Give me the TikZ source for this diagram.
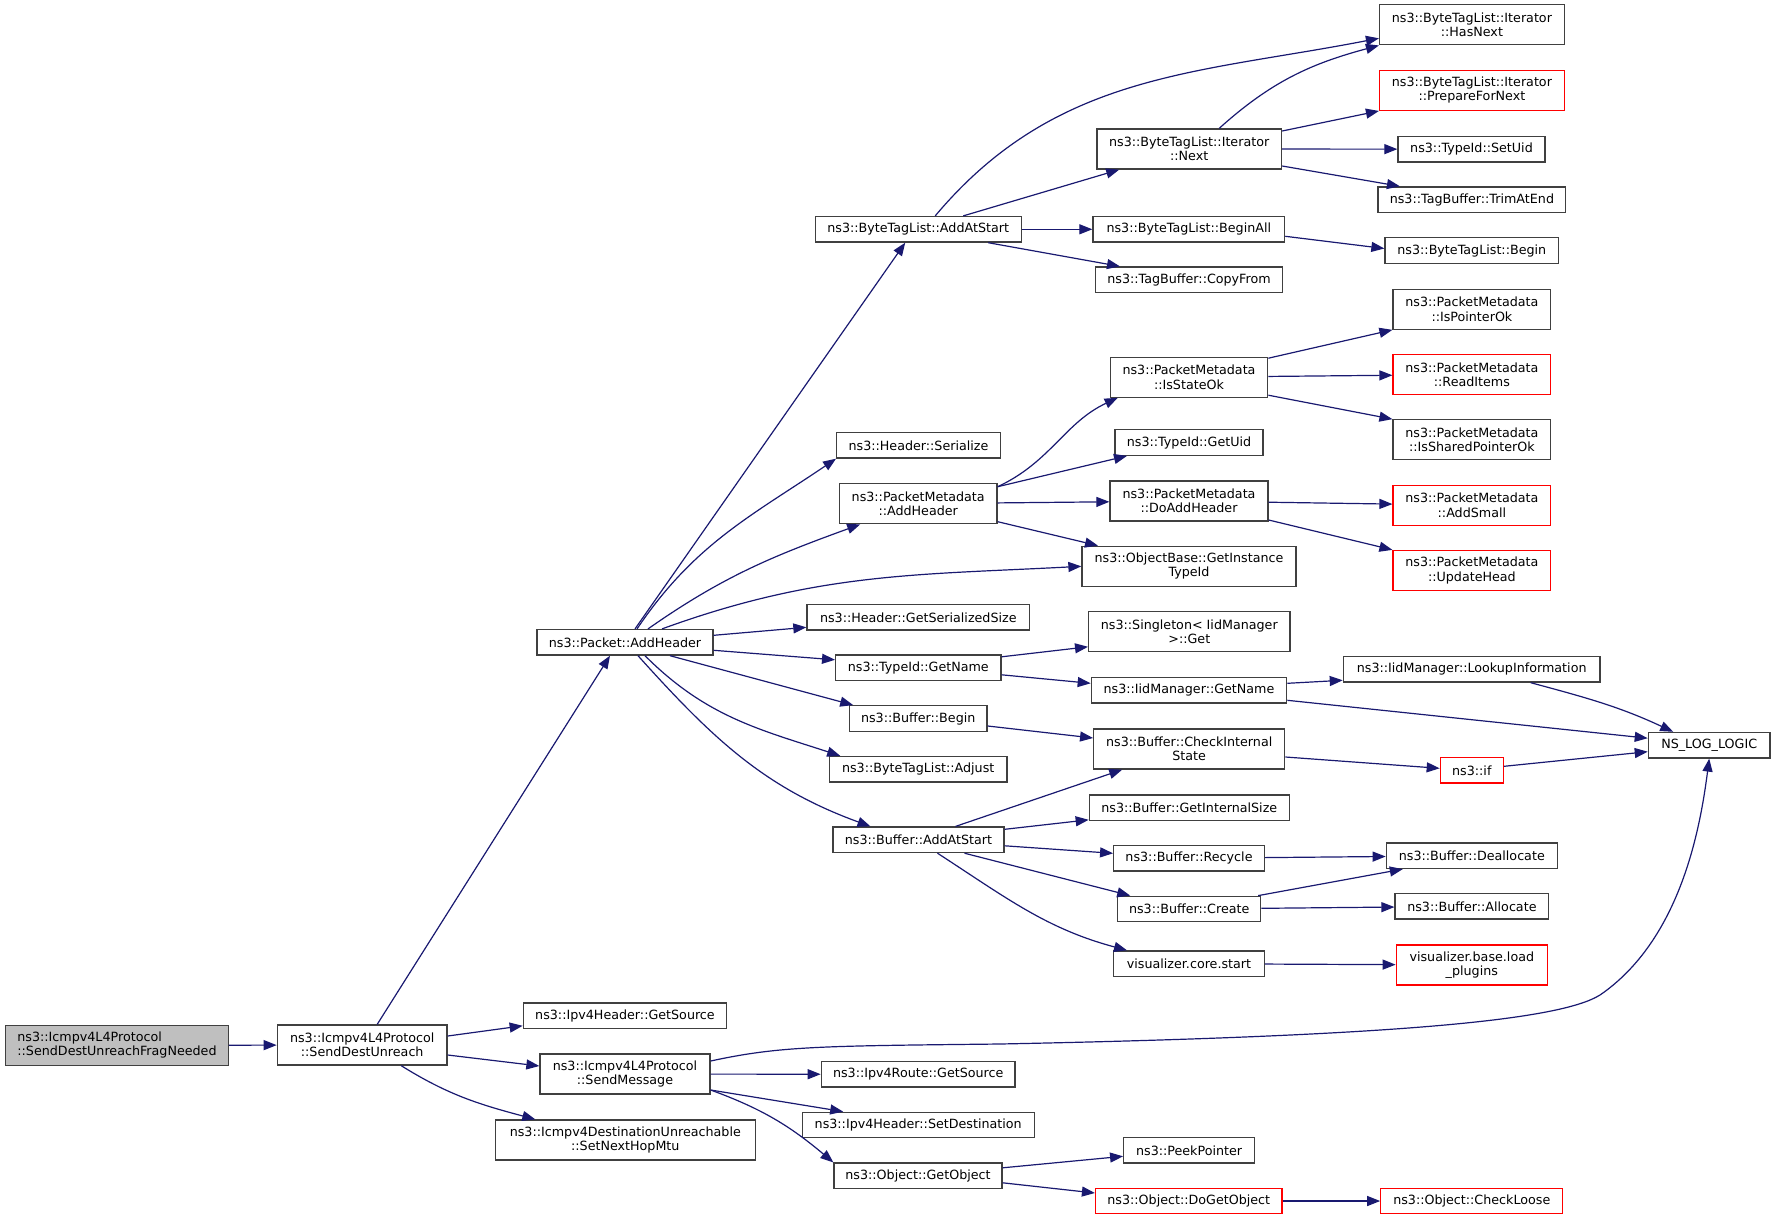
\documentclass[tikz,border=0pt]{standalone}
\usepackage{fontspec}
\newfontfamily\dejavu{DejaVu Sans}
\usetikzlibrary{arrows.meta}
\definecolor{edgeblue}{HTML}{191970}
\definecolor{boxgrey}{HTML}{404040}
\definecolor{rootgrey}{HTML}{BFBFBF}

\begin{document}
\begin{tikzpicture}[x=1pt,y=-1pt,
  fn/.style={draw=boxgrey, line width=1.3pt, fill=white, inner sep=0pt,
    minimum height=25.5pt, align=center,
    font=\dejavu\fontsize{12.7}{14.3}\selectfont},
  fnn/.style={fn, minimum height=40pt},
  undoc/.style={draw=red},
  call/.style={draw=edgeblue, line width=1.2pt,
    -{Triangle[length=13pt,width=10pt]}}]

\useasboundingbox (0,0) rectangle (1776,1220);

% first columns
\node[fnn, fill=rootgrey, align=left, minimum width=222.5pt] (frag) at (117,1045.3)
  {ns3::Icmpv4L4Protocol\\::SendDestUnreachFragNeeded};
\node[fnn, minimum width=169.7pt] (sdu) at (362.2,1045) {ns3::Icmpv4L4Protocol\\::SendDestUnreach};

\node[fn, minimum width=176pt] (pah) at (625,642.3) {ns3::Packet::AddHeader};
\node[fn, minimum width=203.4pt] (ihgs) at (625,1015.8) {ns3::Ipv4Header::GetSource};
\node[fnn, minimum width=170pt] (smsg) at (625,1074) {ns3::Icmpv4L4Protocol\\::SendMessage};
\node[fnn, minimum width=260pt] (snhm) at (625.3,1140)
  {ns3::Icmpv4DestinationUnreachable\\::SetNextHopMtu};

\node[fn, minimum width=206pt] (btlaas) at (918.2,229.3) {ns3::ByteTagList::AddAtStart};
\node[fn, minimum width=163.6pt] (hser) at (918.5,445.3) {ns3::Header::Serialize};
\node[fnn, minimum width=157.7pt] (pmah) at (918.2,503.7) {ns3::PacketMetadata\\::AddHeader};
\node[fn, minimum width=222.7pt] (ggss) at (918.3,617.3) {ns3::Header::GetSerializedSize};
\node[fn, minimum width=165.3pt] (tgn) at (918.3,667.8) {ns3::TypeId::GetName};
\node[fn, minimum width=137.7pt] (bbegin) at (918.2,718.5) {ns3::Buffer::Begin};
\node[fn, minimum width=177.7pt] (btladj) at (918.2,769.2) {ns3::ByteTagList::Adjust};
\node[fn, minimum width=171pt] (baas) at (918.5,839.8) {ns3::Buffer::AddAtStart};
\node[fn, minimum width=193.7pt] (irgs) at (918.2,1074.3) {ns3::Ipv4Route::GetSource};
\node[fn, minimum width=232pt] (ihsd) at (918.2,1125) {ns3::Ipv4Header::SetDestination};
\node[fn, minimum width=168pt] (ogo) at (918,1175.8) {ns3::Object::GetObject};

\node[fnn, minimum width=184.7pt] (itnext) at (1189.2,149) {ns3::ByteTagList::Iterator\\::Next};
\node[fn, minimum width=191.6pt] (beginall) at (1188.8,229.3) {ns3::ByteTagList::BeginAll};
\node[fn, minimum width=187.3pt] (copyfrom) at (1189,279.8) {ns3::TagBuffer::CopyFrom};
\node[fnn, minimum width=157.4pt] (isok) at (1189,377.2) {ns3::PacketMetadata\\::IsStateOk};
\node[fn, minimum width=148pt] (gui) at (1189,442.5) {ns3::TypeId::GetUid};
\node[fnn, minimum width=158pt] (doah) at (1189,501) {ns3::PacketMetadata\\::DoAddHeader};
\node[fnn, minimum width=214pt] (git) at (1189,566.3) {ns3::ObjectBase::GetInstance\\TypeId};
\node[fnn, minimum width=201.3pt] (sing) at (1189.3,631.8) {ns3::Singleton< IidManager\\>::Get};
\node[fn, minimum width=195.4pt] (iigh) at (1189,690.3) {ns3::IidManager::GetName};
\node[fnn, minimum width=191pt] (cis) at (1189.2,749) {ns3::Buffer::CheckInternal\\State};
\node[fn, minimum width=200pt] (gis) at (1189.3,807.8) {ns3::Buffer::GetInternalSize};
\node[fn, minimum width=150.6pt] (recycle) at (1189,858.3) {ns3::Buffer::Recycle};
\node[fn, minimum width=143pt] (create) at (1189.2,909) {ns3::Buffer::Create};
\node[fn, minimum width=150.6pt] (vcs) at (1189,963.7) {visualizer.core.start};
\node[fn, minimum width=130.8pt] (peek) at (1189.1,1150.3) {ns3::PeekPointer};
\node[fn, undoc, minimum width=186.5pt] (dgo) at (1188.8,1201) {ns3::Object::DoGetObject};

\node[fnn, minimum width=184.7pt] (hasnext) at (1471.9,24.8) {ns3::ByteTagList::Iterator\\::HasNext};
\node[fnn, undoc, minimum width=184.7pt] (prepnext) at (1471.9,90.3)
  {ns3::ByteTagList::Iterator\\::PrepareForNext};
\node[fn, minimum width=147pt] (setuid) at (1471.5,149.2) {ns3::TypeId::SetUid};
\node[fn, minimum width=187.7pt] (trim) at (1471.9,199.7) {ns3::TagBuffer::TrimAtEnd};
\node[fn, minimum width=173.6pt] (bbeg) at (1471.8,250.5) {ns3::ByteTagList::Begin};
\node[fnn, minimum width=157.7pt] (ispo) at (1471.9,309.2) {ns3::PacketMetadata\\::IsPointerOk};
\node[fnn, undoc, minimum width=157.7pt] (ritems) at (1471.9,374.5) {ns3::PacketMetadata\\::ReadItems};
\node[fnn, minimum width=157.7pt] (isspo) at (1471.9,439.8) {ns3::PacketMetadata\\::IsSharedPointerOk};
\node[fnn, undoc, minimum width=157.7pt] (asmall) at (1471.9,505.3) {ns3::PacketMetadata\\::AddSmall};
\node[fnn, undoc, minimum width=157.7pt] (uhead) at (1471.9,570.5) {ns3::PacketMetadata\\::UpdateHead};
\node[fn, minimum width=256.7pt] (lookup) at (1471.7,669.3) {ns3::IidManager::LookupInformation};
\node[fn, undoc, minimum width=63pt] (nsif) at (1471.8,770.3) {ns3::if};
\node[fn, minimum width=171pt] (dealloc) at (1471.8,855.7) {ns3::Buffer::Deallocate};
\node[fn, minimum width=153.7pt] (alloc) at (1471.9,906.3) {ns3::Buffer::Allocate};
\node[fnn, undoc, minimum width=151pt] (lplug) at (1471.8,965) {visualizer.base.load\\\_plugins};
\node[fn, undoc, minimum width=182pt] (loose) at (1471.8,1201) {ns3::Object::CheckLoose};

\node[fn, minimum width=121.7pt] (nslog) at (1709.2,745.2) {NS\_LOG\_LOGIC};

% calls
\draw[call] (frag) -- (sdu);
\draw[call] ([xshift=15pt]sdu.north) -- ([xshift=-15pt]pah.south);
\draw[call] ([yshift=9pt]sdu.east) -- ([yshift=-10pt]ihgs.west);
\draw[call] ([yshift=-10pt]sdu.east) -- ([yshift=8pt]smsg.west);
\draw[call] ([xshift=39pt]sdu.south) to[out=-32,in=165] ([xshift=-90pt]snhm.north);

\draw[call] ([xshift=10pt]pah.north) -- ([xshift=-13pt]btlaas.south);
\draw[call] ([xshift=12pt]pah.north) to[out=56,in=214] (hser.south west);
\draw[call] ([xshift=23pt]pah.north) to[out=35,in=200] ([xshift=-58pt]pmah.south);
\draw[call] ([xshift=37pt]pah.north) to[out=20,in=183] (git.west);
\draw[call] ([yshift=7pt]pah.east) -- ([yshift=-10pt]ggss.west);
\draw[call] ([yshift=-8pt]pah.east) -- ([yshift=8pt]tgn.west);
\draw[call] ([xshift=45pt]pah.south) -- ([xshift=-65pt]bbegin.north);
\draw[call] ([xshift=20pt]pah.south) to[out=-45,in=162] ([xshift=-78pt]btladj.north);
\draw[call] ([xshift=13pt]pah.south) to[out=-48,in=160] ([xshift=-48pt]baas.north);

\draw[call] ([xshift=17pt]btlaas.north) to[out=50,in=191] ([yshift=-13.5pt]hasnext.west);
\draw[call] ([xshift=45pt]btlaas.north) -- ([xshift=-70pt]itnext.south);
\draw[call] (btlaas) -- (beginall);
\draw[call] ([xshift=70pt]btlaas.south) -- ([xshift=-69pt]copyfrom.north);

\draw[call] ([xshift=30pt]itnext.north) to[out=42,in=195] (hasnext.south west);
\draw[call] ([yshift=18pt]itnext.east) -- (prepnext.south west);
\draw[call] (itnext) -- (setuid);
\draw[call] ([yshift=-17pt]itnext.east) -- ([xshift=-72pt]trim.north);
\draw[call] ([yshift=-7pt]beginall.east) -- ([yshift=2pt]bbeg.west);

\draw[call] ([yshift=17pt]pmah.east) to[out=25,in=205] ([xshift=8pt]isok.south west);
\draw[call] ([yshift=17pt]pmah.east) -- ([xshift=-62pt]gui.south);
\draw[call] (pmah) -- (doah);
\draw[call] ([yshift=-18pt]pmah.east) -- ([xshift=-91pt]git.north);

\draw[call] ([yshift=19pt]isok.east) -- (ispo.south west);
\draw[call] (isok) -- (ritems);
\draw[call] ([yshift=-18pt]isok.east) -- (isspo.north west);
\draw[call] (doah) -- (asmall);
\draw[call] ([yshift=-19pt]doah.east) -- (uhead.north west);

\draw[call] ([yshift=11pt]tgn.east) -- ([yshift=-15pt]sing.west);
\draw[call] ([yshift=-7pt]tgn.east) -- ([yshift=7pt]iigh.west);
\draw[call] ([yshift=7pt]iigh.east) -- ([yshift=-11pt]lookup.west);
\draw[call] ([yshift=-10pt]iigh.east) -- ([yshift=7pt]nslog.west);
\draw[call] ([xshift=59pt]lookup.south) to[out=-15,in=155] ([xshift=-36pt]nslog.north);

\draw[call] ([yshift=-7.5pt]bbegin.east) -- ([yshift=11pt]cis.west);
\draw[call] ([yshift=-8pt]cis.east) -- ([yshift=2pt]nsif.west);
\draw[call] ([yshift=4pt]nsif.east) -- ([yshift=-6.5pt]nslog.west);

\draw[call] ([xshift=37pt]baas.north) -- ([xshift=-67pt]cis.south);
\draw[call] ([yshift=10.5pt]baas.east) -- ([yshift=-12pt]gis.west);
\draw[call] ([yshift=-6pt]baas.east) -- ([yshift=5pt]recycle.west);
\draw[call] ([xshift=46pt]baas.south) -- ([xshift=-59pt]create.north);
\draw[call] ([xshift=19pt]baas.south) to[out=-33,in=165] ([xshift=-62pt]vcs.north);
\draw[call] (recycle) -- (dealloc);
\draw[call] ([xshift=69pt]create.north) -- ([xshift=-69pt]dealloc.south);
\draw[call] (create) -- (alloc);
\draw[call] (vcs) -- (lplug);

\draw[call] ([yshift=13pt]smsg.east) .. controls (780,1046) and (820,1046) .. (1000,1044)
  .. controls (1400,1036) and (1560,1020) .. (1600,995)
  .. controls (1680,940) and (1700,830) .. (nslog.south);
\draw[call] (smsg) -- (irgs);
\draw[call] ([yshift=-16pt]smsg.east) -- ([xshift=-75pt]ihsd.north);
\draw[call] ([yshift=-16pt]smsg.east) to[out=-20,in=140] (ogo.north west);
\draw[call] ([yshift=8pt]ogo.east) -- ([yshift=-6pt]peek.west);
\draw[call] ([yshift=-7pt]ogo.east) -- ([yshift=8pt]dgo.west);
\draw[call] (dgo) -- (loose);

\end{tikzpicture}
\end{document}
